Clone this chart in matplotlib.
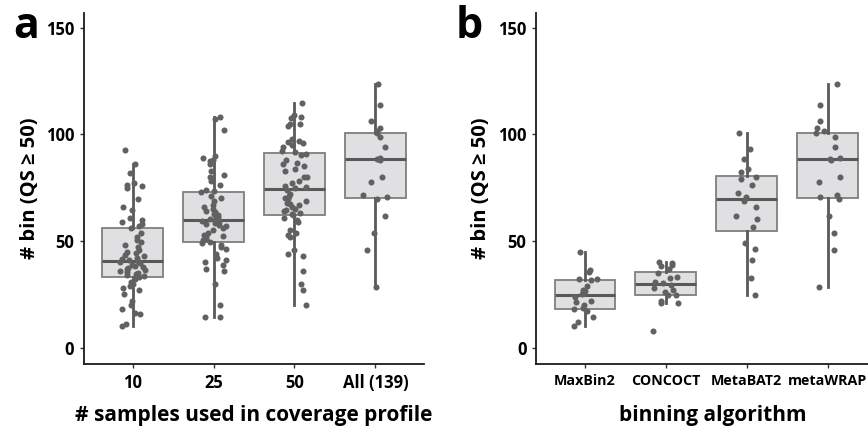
"""
Bins with QS >= 50: coverage-profile sample count (a) and binning algorithm (b).
"""

import numpy as np
import matplotlib
matplotlib.use("Agg")
import matplotlib.pyplot as plt

plt.rcParams["font.family"] = ["Open Sans", "DejaVu Sans"]
plt.rcParams["font.weight"] = "bold"

# panel a: number of samples used in coverage profile
samples_labels = ["10", "25", "50", "All (139)"]
bins_s10 = [10, 11, 16, 16.5, 18, 20, 22, 25, 27, 28, 29, 30, 31, 32, 33,
            33.5, 34, 34.5, 35, 35.5, 36, 36.5, 37, 37.5, 38, 38.5, 39, 39.5, 40, 40.5,
            41, 41.5, 42, 43, 43.5, 44.5, 45, 46, 47, 48, 49.5, 50.5, 52, 54, 56,
            57, 58, 59, 60, 61, 64.5, 66, 69.5, 75, 76, 76.5, 77, 82, 86, 92.7]
bins_s25 = [14.2, 14.5, 20, 30, 36, 37, 39, 40, 41, 42, 44, 46.5, 47, 48, 49,
            49.5, 50.5, 51, 52, 52.5, 53, 54, 55, 56, 57, 57.5, 58, 58.5, 59, 59.5,
            60, 60.5, 61, 61.5, 62, 62.5, 63.5, 64, 65, 66, 67, 69, 70, 71, 73,
            73.5, 74, 76.5, 78, 80, 81, 83, 86, 87.5, 88, 89, 90, 102, 107, 108.3]
bins_s50 = [20, 27, 30, 36, 43, 44, 46, 52, 53, 54, 55, 59, 60, 61, 62,
            62.5, 63, 64, 64.5, 65, 66, 67, 67.5, 68, 69, 69.5, 70, 71, 72, 74,
            75, 75.5, 76, 77, 78, 80, 80, 83, 84, 85, 86, 86.5, 88, 90.5, 91,
            91.5, 92, 94, 95, 96, 96.5, 97, 98, 104, 105, 105, 107.5, 108, 109, 114.6]
bins_all = [28.6, 45.8, 53.6, 61.9, 69.5, 70.5, 71.6, 77.8, 80.2, 88,
            88.5, 88.8, 94, 98.9, 100.5, 101.5, 102.8, 106.3, 113.8, 123.5]

# panel b: binning algorithm
algo_labels = ["MaxBin2", "CONCOCT", "MetaBAT2", "metaWRAP"]
bins_maxbin2 = [10, 12, 14.5, 17, 18, 18.5, 20, 21.5, 22, 24,
                25, 26.5, 27, 29, 31.6, 32, 32, 35.5, 36.5, 44.7]
bins_concoct = [7.7, 20.8, 21, 22, 24.5, 24.7, 26, 27, 28, 29.5,
                30.5, 31, 32.5, 33, 35, 37, 38.5, 39, 39.5, 40.2]
bins_metabat2 = [24.7, 32.5, 41.1, 46.1, 49, 56.4, 60.2, 61.9, 65.8, 69,
                 70.5, 72.7, 76.3, 79, 79.8, 82.5, 83.6, 88.5, 93, 100.8]
bins_metawrap = bins_all

BOX_FILL = "#e0e0e2"
BOX_EDGE = "#7f7f7f"
DARK = "#595959"
POINT = "#616161"


def draw_panel(ax, groups, labels, xtick_size):
    pos = np.arange(1, len(groups) + 1)
    ax.boxplot(groups, positions=pos, widths=0.75, whis=1.5, showfliers=False,
               patch_artist=True, showcaps=False,
               boxprops=dict(facecolor=BOX_FILL, edgecolor=BOX_EDGE, linewidth=1.3),
               medianprops=dict(color=DARK, linewidth=2.2),
               whiskerprops=dict(color=DARK, linewidth=2.0), zorder=1)
    rng = np.random.default_rng(3)
    for p, vals in zip(pos, groups):
        jit = rng.uniform(-0.16, 0.16, len(vals))
        ax.scatter(p + jit, vals, s=19, color=POINT, linewidths=0, zorder=3)

    ax.set_xlim(0.4, 4.6)
    ax.set_ylim(-7.6, 157)
    ax.set_yticks([0, 50, 100, 150])
    ax.set_xticks(pos)
    ax.set_xticklabels(labels, fontsize=xtick_size, fontweight="bold")
    for s in ["top", "right"]:
        ax.spines[s].set_visible(False)
    for s in ["left", "bottom"]:
        ax.spines[s].set_linewidth(1.3)
        ax.spines[s].set_color("#1a1a1a")
    ax.tick_params(axis="both", length=3, width=1, color="#333333", pad=4)
    ax.tick_params(axis="y", labelsize=12)
    for t in ax.get_yticklabels():
        t.set_fontweight("bold")
    ax.set_ylabel("# bin (QS ≥ 50)", fontsize=14.5, fontweight="bold", va="center")


fig = plt.figure(figsize=(8.68, 4.26), dpi=100)
ax_a = fig.add_axes([84 / 868, 62 / 426, 340 / 868, 351.3 / 426])
ax_b = fig.add_axes([536.3 / 868, 62 / 426, 340 / 868, 351.3 / 426])

draw_panel(ax_a, [bins_s10, bins_s25, bins_s50, bins_all], samples_labels, 12)
draw_panel(ax_b, [bins_maxbin2, bins_concoct, bins_metabat2, bins_metawrap], algo_labels, 10.3)

ax_a.set_xlabel("# samples used in coverage profile", fontsize=15, fontweight="bold", va="center")
ax_b.set_xlabel("binning algorithm", fontsize=15, fontweight="bold", va="center")
ax_a.xaxis.set_label_coords(0.5, -0.147)
ax_b.xaxis.set_label_coords(0.518, -0.147)
ax_a.yaxis.set_label_coords(-0.159, 0.5)
ax_b.yaxis.set_label_coords(-0.164, 0.5)

fig.text(13 / 868, 1 - 38 / 426, "a", fontsize=31, fontweight="bold", va="baseline")
fig.text(456 / 868, 1 - 38 / 426, "b", fontsize=31, fontweight="bold", va="baseline")

fig.savefig("out.png", dpi=100)
